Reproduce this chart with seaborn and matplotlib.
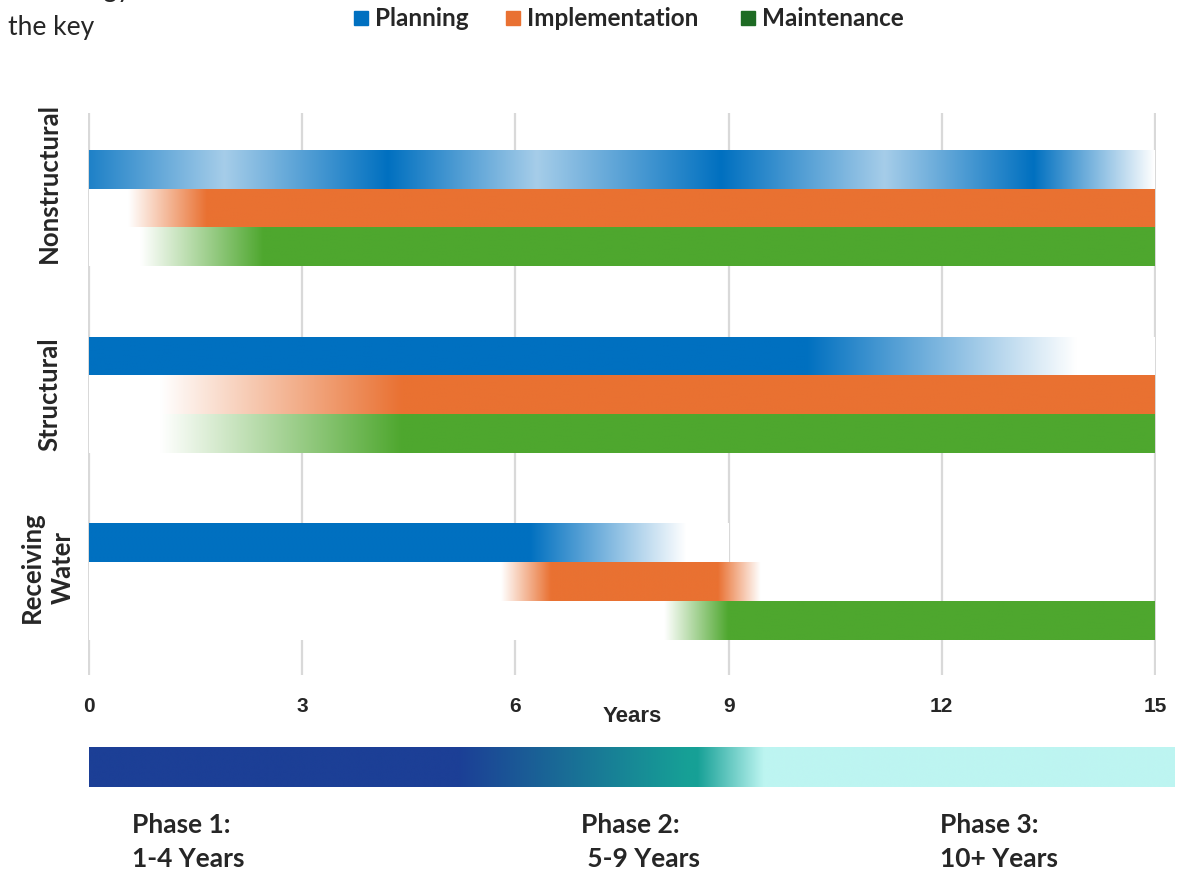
import numpy as np
import pandas as pd
import seaborn as sns
import matplotlib.pyplot as plt
from matplotlib.colors import to_rgb
from matplotlib.patches import Rectangle

# chart data
categories = ["Nonstructural", "Structural", "Receiving\nWater"]
phases = ["Planning", "Implementation", "Maintenance"]
planning_end = [15, 15, 9.0]
implementation_end = [15, 15, 9.45]
maintenance_end = [15, 15, 15]
phase_colors = ["#0070c0", "#e97132", "#4ea72e"]
legend_colors = ["#0070c0", "#e97132", "#1e6b24"]

# colour strength along each bar: (year, strength), 0 = white, 1 = full colour
nonstructural_fade = [
    [(0, 0.88), (1.9, 0.35), (4.2, 1), (6.3, 0.35), (8.9, 1), (11.2, 0.35), (13.3, 1), (15, 0.0)],
    [(0, 0), (0.55, 0), (1.65, 1), (15, 1)],
    [(0, 0), (0.72, 0), (2.45, 1), (15, 1)],
]
structural_fade = [
    [(0, 1), (10.1, 1), (13.9, 0), (15, 0)],
    [(0, 0), (1.0, 0), (4.4, 1), (15, 1)],
    [(0, 0), (1.0, 0), (4.4, 1), (15, 1)],
]
receiving_fade = [
    [(0, 1), (6.2, 1), (8.4, 0), (9.0, 0)],
    [(0, 0), (5.8, 0), (6.5, 1), (8.85, 1), (9.45, 0)],
    [(0, 0), (8.1, 0), (9.0, 1), (15, 1)],
]

# bottom phase band
band_years = [0, 5.2, 8.4, 8.56, 9.5, 15.28]
band_colors = ["#1c3f96", "#1c3f96", "#16a096", "#16a096", "#bdf5f1", "#bdf5f1"]
phase_titles = ["Phase 1:", "Phase 2:", "Phase 3:"]
phase_spans = ["1-4 Years", " 5-9 Years", "10+ Years"]

x_ticks = [0, 3, 6, 9, 12, 15]

W, H = 1178, 872


def fx(px):
    return px / W


def fy(py):
    return 1 - py / H


sns.set_style("white")
plt.rcParams['font.family'] = ['Lato', 'DejaVu Sans']

df = pd.DataFrame({
    "category": np.repeat(categories, 3),
    "phase": phases * 3,
    "end": [v for trio in zip(planning_end, implementation_end, maintenance_end) for v in trio],
})

fig = plt.figure(figsize=(W / 100, H / 100), dpi=100)
ax = fig.add_axes([fx(87.6), fy(675), fx(1156.4 - 87.6), (675 - 113) / H])

sns.barplot(data=df, x="end", y="category", hue="phase", orient="h",
            order=categories, hue_order=phases, palette=phase_colors,
            width=0.62, legend=False, ax=ax, zorder=2)

fades = [nonstructural_fade, structural_fade, receiving_fade]
for p_idx, (container, color) in enumerate(zip(ax.containers, phase_colors)):
    rgb = np.array(to_rgb(color))
    for c_idx, bar in enumerate(container):
        x0, y0 = bar.get_x(), bar.get_y()
        w, h = bar.get_width(), bar.get_height()
        stops = fades[c_idx][p_idx]
        xs = np.linspace(x0, x0 + w, 800)
        t = np.interp(xs, [s[0] for s in stops], [s[1] for s in stops])
        img = 1 - t[:, None] * (1 - rgb[None, :])
        ax.imshow(img[None, :, :], extent=[x0, x0 + w, y0 + h, y0],
                  aspect="auto", interpolation="bilinear", zorder=3)
        bar.set_facecolor("none")
        bar.set_edgecolor("none")

ax.set_xlim(-0.02, 15.02)
ax.set_ylim(2.5, -0.51)
ax.set_xticks(x_ticks)
ax.set_xticklabels([str(v) for v in x_ticks], fontweight="bold", fontsize=15,
                   family="Liberation Sans")
ax.tick_params(axis="x", length=0, pad=16)
ax.set_yticks([])
ax.set_ylabel("")
ax.set_xlabel("Years", fontweight="bold", fontsize=16, family="Liberation Sans")
ax.xaxis.set_label_coords((632 - 87.6) / (1156.4 - 87.6), -0.056)
ax.xaxis.grid(True, color="#d9d9d9", linewidth=1.6, zorder=0)
ax.set_axisbelow(True)
sns.despine(ax=ax, left=True, bottom=True)

# category labels
label_pos = [(49, 183), (49, 394), (47, 567)]
for name, (lx, ly) in zip(categories, label_pos):
    fig.text(fx(lx), fy(ly), name, rotation=90, ha="center", va="center",
             multialignment="center", fontweight="bold", fontsize=18.5,
             linespacing=1.35)

# legend across the top
legend_x = [354, 506, 741]
for name, color, lx in zip(phases, legend_colors, legend_x):
    fig.patches.append(Rectangle((fx(lx), fy(25)), fx(14), 14 / H,
                                 transform=fig.transFigure, color=color))
    fig.text(fx(lx + 21), fy(18), name, ha="left", va="center",
             fontweight="bold", fontsize=17.5)

# text cut by the top edge, as in the source image
fig.text(fx(131), fy(-3), "strategy", ha="right", va="baseline", fontsize=19)
fig.text(fx(8), fy(35), "the key", ha="left", va="baseline", fontsize=19)

# phase band
bax = fig.add_axes([fx(89), fy(787), fx(1175 - 89), 40 / H])
xs = np.linspace(band_years[0], band_years[-1], 1200)
band_rgb = np.array([to_rgb(c) for c in band_colors])
band = np.stack([np.interp(xs, band_years, band_rgb[:, k]) for k in range(3)], axis=1)
bax.imshow(band[None, :, :], extent=[band_years[0], band_years[-1], 0, 1],
           aspect="auto", interpolation="bilinear")
bax.set_xlim(band_years[0], band_years[-1])
bax.set_ylim(0, 1)
bax.axis("off")

phase_x = [132, 581, 940]
for title, span, px in zip(phase_titles, phase_spans, phase_x):
    fig.text(fx(px), fy(825), title, ha="left", va="center", fontweight="bold", fontsize=19)
    fig.text(fx(px), fy(859), span, ha="left", va="center", fontweight="bold", fontsize=19)

fig.savefig("out.png", dpi=100)
